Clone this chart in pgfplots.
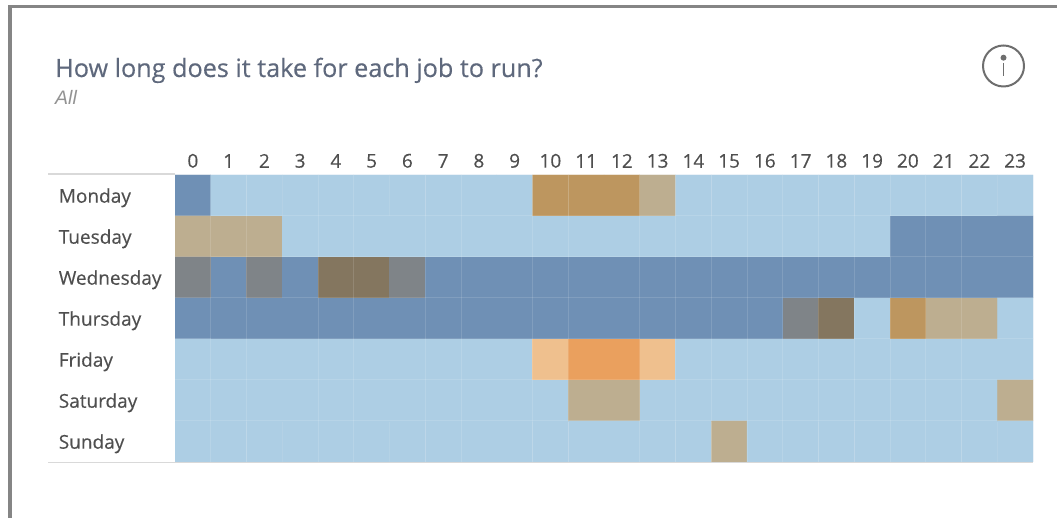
\documentclass[border=0pt]{standalone}
\usepackage{pgfplots}
\pgfplotsset{compat=1.18}
\usepackage{fontspec}
\setmainfont[FakeBold=0.3]{Open Sans}
\newfontfamily\allfont{Liberation Sans}
\definecolor{titlec}{HTML}{5E687C}
\definecolor{labelc}{HTML}{4F4F4F}
\definecolor{framec}{HTML}{858585}
\definecolor{rulec}{HTML}{D9D9D9}
\definecolor{iconc}{HTML}{6E6E6E}
\begin{document}
\begin{tikzpicture}
\useasboundingbox (0pt,0pt) rectangle (1057pt,518pt);
\fill[white] (0pt,0pt) rectangle (1057pt,518pt);
% frame
\fill[framec] (8pt,0pt) rectangle (12pt,513pt);
\fill[framec] (8pt,509.5pt) rectangle (1057pt,513pt);
% title
\node[anchor=base west,inner sep=0,text=titlec,font=\fontsize{25.2}{28}\selectfont] at (55pt,441pt) {How long does it take for each job to run?};
\node[anchor=base west,inner sep=0,text=gray!85,font=\allfont\itshape\fontsize{19.5}{22}\selectfont] at (55pt,413.7pt) {All};
% info icon
\draw[iconc,line width=2pt] (1003.5pt,452pt) circle (20.5pt);
\fill[iconc] (1003.5pt,460.3pt) circle (3pt);
\draw[iconc,line width=1.8pt] (1003.5pt,455pt) -- (1003.5pt,442pt);
% rules
\draw[rulec,line width=1.2pt] (48pt,344pt) -- (175pt,344pt);
\draw[rulec,line width=1.2pt] (48pt,55.5pt) -- (1033pt,55.5pt);
\begin{axis}[
  at={(192.875pt,322.5pt)},anchor=origin,
  scale only axis,width=858pt,height=287pt,
  xmin=-0.5,xmax=23.5,ymin=-0.5,ymax=6.5,y dir=reverse,
  axis line style={draw=none},
  axis on top,
  major tick length=0pt,minor tick length=0pt,
  xtick={0,...,23},ytick={0,...,6},
  minor xtick={0.5,1.5,3.5,4.5,6.5,7.5,9.5,10.5,12.5,13.5,14.5,15.5,16.5,17.5,18.5,19.5,20.5,21.5},
  minor ytick={0.5,1.5,2.5,3.5,4.5,5.5},
  minor grid style={draw=white,draw opacity=0.13,line width=1pt},
  xminorgrids=true,yminorgrids=true,
  xticklabel pos=top,
  yticklabels={Monday,Tuesday,Wednesday,Thursday,Friday,Saturday,Sunday},
  tick label style={text=labelc,font=\fontsize{19}{22}\selectfont},
  x tick label style={inner sep=0pt,yshift=7pt},
  y tick label style={inner sep=0pt,anchor=east,text width=116pt,align=left,text height=14pt,text depth=4pt,yshift=-2.2pt},
  /pgf/number format/assume math mode=true,
  colormap={cells}{
    rgb255=(173,206,228)  % 0 light blue
    rgb255=(111,144,181)  % 1 dark blue
    rgb255=(189,174,144)  % 2 tan
    rgb255=(189,150,95)   % 3 ochre
    rgb255=(127,132,136)  % 4 gray
    rgb255=(132,118,95)   % 5 brown
    rgb255=(239,192,142)  % 6 light orange
    rgb255=(234,160,94)   % 7 orange
  },
  colormap access=direct,
]
\addplot[matrix plot*,mesh/cols=24,point meta=explicit] table[meta=c,row sep=\\] {
x y c\\
0 0 1\\ 1 0 0\\ 2 0 0\\ 3 0 0\\ 4 0 0\\ 5 0 0\\ 6 0 0\\ 7 0 0\\ 8 0 0\\ 9 0 0\\ 10 0 3\\ 11 0 3\\ 12 0 3\\ 13 0 2\\ 14 0 0\\ 15 0 0\\ 16 0 0\\ 17 0 0\\ 18 0 0\\ 19 0 0\\ 20 0 0\\ 21 0 0\\ 22 0 0\\ 23 0 0\\
0 1 2\\ 1 1 2\\ 2 1 2\\ 3 1 0\\ 4 1 0\\ 5 1 0\\ 6 1 0\\ 7 1 0\\ 8 1 0\\ 9 1 0\\ 10 1 0\\ 11 1 0\\ 12 1 0\\ 13 1 0\\ 14 1 0\\ 15 1 0\\ 16 1 0\\ 17 1 0\\ 18 1 0\\ 19 1 0\\ 20 1 1\\ 21 1 1\\ 22 1 1\\ 23 1 1\\
0 2 4\\ 1 2 1\\ 2 2 4\\ 3 2 1\\ 4 2 5\\ 5 2 5\\ 6 2 4\\ 7 2 1\\ 8 2 1\\ 9 2 1\\ 10 2 1\\ 11 2 1\\ 12 2 1\\ 13 2 1\\ 14 2 1\\ 15 2 1\\ 16 2 1\\ 17 2 1\\ 18 2 1\\ 19 2 1\\ 20 2 1\\ 21 2 1\\ 22 2 1\\ 23 2 1\\
0 3 1\\ 1 3 1\\ 2 3 1\\ 3 3 1\\ 4 3 1\\ 5 3 1\\ 6 3 1\\ 7 3 1\\ 8 3 1\\ 9 3 1\\ 10 3 1\\ 11 3 1\\ 12 3 1\\ 13 3 1\\ 14 3 1\\ 15 3 1\\ 16 3 1\\ 17 3 4\\ 18 3 5\\ 19 3 0\\ 20 3 3\\ 21 3 2\\ 22 3 2\\ 23 3 0\\
0 4 0\\ 1 4 0\\ 2 4 0\\ 3 4 0\\ 4 4 0\\ 5 4 0\\ 6 4 0\\ 7 4 0\\ 8 4 0\\ 9 4 0\\ 10 4 6\\ 11 4 7\\ 12 4 7\\ 13 4 6\\ 14 4 0\\ 15 4 0\\ 16 4 0\\ 17 4 0\\ 18 4 0\\ 19 4 0\\ 20 4 0\\ 21 4 0\\ 22 4 0\\ 23 4 0\\
0 5 0\\ 1 5 0\\ 2 5 0\\ 3 5 0\\ 4 5 0\\ 5 5 0\\ 6 5 0\\ 7 5 0\\ 8 5 0\\ 9 5 0\\ 10 5 0\\ 11 5 2\\ 12 5 2\\ 13 5 0\\ 14 5 0\\ 15 5 0\\ 16 5 0\\ 17 5 0\\ 18 5 0\\ 19 5 0\\ 20 5 0\\ 21 5 0\\ 22 5 0\\ 23 5 2\\
0 6 0\\ 1 6 0\\ 2 6 0\\ 3 6 0\\ 4 6 0\\ 5 6 0\\ 6 6 0\\ 7 6 0\\ 8 6 0\\ 9 6 0\\ 10 6 0\\ 11 6 0\\ 12 6 0\\ 13 6 0\\ 14 6 0\\ 15 6 2\\ 16 6 0\\ 17 6 0\\ 18 6 0\\ 19 6 0\\ 20 6 0\\ 21 6 0\\ 22 6 0\\ 23 6 0\\
};
\end{axis}
\end{tikzpicture}
\end{document}
